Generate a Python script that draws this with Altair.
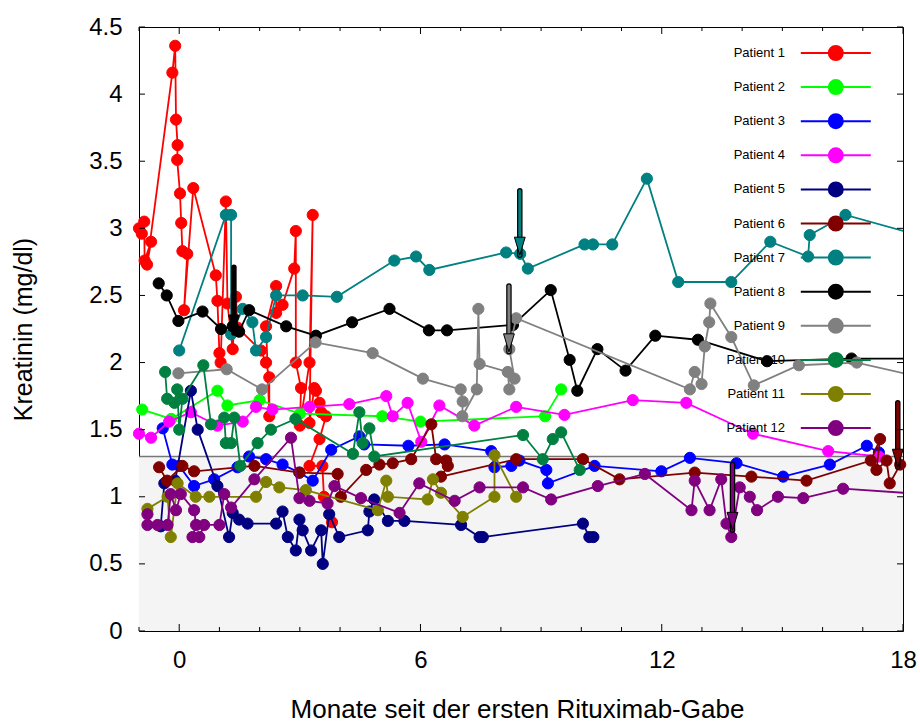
import altair as alt
import pandas as pd

FONT = "Liberation Sans"

patients = ["Patient 1", "Patient 2", "Patient 3", "Patient 4", "Patient 5", "Patient 6",
            "Patient 7", "Patient 8", "Patient 9", "Patient 10", "Patient 11", "Patient 12"]
colors = ["#ff0000", "#00ff00", "#0000ff", "#ff00ff", "#000080", "#800000",
          "#008080", "#000000", "#808080", "#008040", "#808000", "#800080"]

# months since first rituximab dose / creatinine (mg/dl), per patient, in measurement order
p1_month = [-1.0, -0.93, -0.87, -0.86, -0.7, -0.8, -0.17, -0.1, -0.08, -0.04, -0.05, 0.02, 0.05, 0.08, 0.2,
            0.12, 0.35, 0.91, 0.95, 1.0, 1.03, 1.16, 1.2, 1.33, 1.41, 1.45, 2.03, 2.16, 2.24, 2.24, 2.16, 2.41,
            2.41, 2.57, 2.86, 2.9, 2.9, 3.03, 3.0, 3.24, 3.32, 3.24, 3.36, 3.4, 3.49, 3.53, 3.65, 3.49, 3.24,
            3.56, 3.6, 3.8]
p1_creat = [3.00, 2.96, 3.05, 2.76, 2.90, 2.73, 4.16, 4.36, 3.81, 3.62, 3.51, 3.26, 3.04, 2.83, 2.81,
            2.39, 3.30, 2.65, 2.46, 2.07, 2.00, 3.20, 2.44, 2.10, 2.49, 2.26, 2.09, 2.00, 1.89, 1.60, 2.27, 2.57,
            2.37, 2.43, 2.70, 2.98, 2.00, 1.81, 1.53, 2.00, 3.10, 1.55, 1.81, 1.79, 1.70, 1.63, 1.60, 1.43, 1.23,
            1.23, 1.00, 0.81]

p2_month = [-0.92, -0.2, 0.95, 1.2, 2.0, 3.0, 5.05, 6.0, 9.1, 9.5]
p2_creat = [1.65, 1.58, 1.79, 1.68, 1.72, 1.62, 1.60, 1.56, 1.60, 1.80]

p3_month = [-0.41, -0.17, 0.0, 0.37, 0.87, 1.45, 1.74, 2.16, 2.57, 2.99, 3.32, 3.78, 4.48, 4.6, 5.7, 6.6,
            7.76, 7.84, 8.26, 8.46, 9.13, 9.17, 10.33, 11.99, 12.7, 13.86, 15.02, 16.18, 17.1, 17.4]
p3_creat = [1.51, 1.24, 1.23, 1.08, 1.13, 1.22, 1.30, 1.28, 1.24, 1.18, 1.12, 1.35, 1.45, 1.39, 1.38, 1.39,
            1.34, 1.22, 1.23, 1.27, 1.20, 1.10, 1.23, 1.19, 1.29, 1.25, 1.15, 1.24, 1.38, 1.33]

p4_month = [-1.0, -0.7, -0.25, 0.29, 0.95, 1.58, 1.91, 2.32, 3.24, 4.23, 5.15, 5.31, 5.68, 6.02, 6.47,
            7.34, 8.38, 9.58, 11.28, 12.61, 14.27, 16.14, 17.4]
p4_creat = [1.47, 1.44, 1.56, 1.63, 1.53, 1.56, 1.67, 1.65, 1.67, 1.69, 1.75, 1.60, 1.70, 1.41, 1.68,
            1.53, 1.67, 1.61, 1.72, 1.70, 1.47, 1.34, 1.30]

p5_month = [-0.46, -0.37, -0.1, 0.29, 0.46, 0.95, 1.24, 1.33, 1.49, 1.7, 2.41, 2.57, 2.7, 2.9, 2.99, 3.07,
            3.28, 3.53, 3.57, 3.73, 3.98, 4.69, 4.73, 4.85, 5.19, 5.6, 7.01, 7.47, 7.55, 10.04, 10.2, 10.3]
p5_creat = [0.78, 1.10, 1.12, 1.79, 1.50, 1.08, 0.70, 0.88, 0.83, 0.80, 0.80, 0.89, 0.70, 0.60, 0.83, 0.75,
            0.60, 0.75, 0.50, 0.87, 0.70, 0.75, 0.89, 0.98, 0.82, 0.82, 0.79, 0.70, 0.70, 0.80, 0.70, 0.70]

p6_month = [-0.5, -0.3, 0.08, 0.37, 1.87, 2.99, 3.94, 4.02, 4.65, 4.98, 5.31, 5.77, 6.27, 6.39, 6.64, 6.68,
            6.51, 8.38, 10.04, 10.95, 12.82, 14.23, 15.6, 17.2, 17.43, 17.34, 17.59, 17.67, 17.93]
p6_creat = [1.22, 1.12, 1.23, 1.19, 1.23, 1.18, 1.17, 1.00, 1.20, 1.24, 1.25, 1.28, 1.54, 1.28, 1.27, 1.23,
            1.15, 1.28, 1.28, 1.13, 1.18, 1.15, 1.12, 1.27, 1.43, 1.20, 1.27, 1.10, 1.24]

p7_month = [0.0, 1.16, 1.29, 1.29, 1.58, 1.82, 1.91, 2.16, 2.41, 3.07, 3.92, 5.35, 5.89, 6.22, 8.13, 8.48,
            8.67, 10.08, 10.29, 10.77, 11.63, 12.41, 13.73, 14.7, 15.64, 15.68, 16.57, 18.5]
p7_creat = [2.09, 3.10, 3.10, 2.21, 2.40, 2.30, 2.09, 2.19, 2.50, 2.50, 2.49, 2.76, 2.79, 2.69, 2.82, 2.81,
            2.70, 2.88, 2.88, 2.88, 3.37, 2.60, 2.60, 2.90, 2.79, 2.95, 3.10, 2.94]

p8_month = [-0.51, -0.31, -0.02, 0.58, 1.04, 1.33, 1.49, 1.74, 2.66, 3.4, 4.3, 5.23, 6.21, 6.66, 8.3, 9.24,
            9.71, 9.9, 10.4, 11.1, 11.84, 12.9, 14.62, 16.72, 18.5]
p8_creat = [2.59, 2.50, 2.31, 2.38, 2.25, 2.27, 2.23, 2.39, 2.27, 2.20, 2.30, 2.40, 2.24, 2.24, 2.28, 2.54,
            2.02, 1.79, 2.10, 1.94, 2.20, 2.17, 2.01, 2.03, 2.03]

p9_month = [-0.02, 1.18, 2.06, 3.39, 4.81, 6.06, 7.0, 7.05, 7.04, 7.4, 7.44, 7.47, 8.17, 8.21, 8.34, 8.21,
            8.38, 12.7, 12.82, 12.99, 13.07, 13.18, 13.21, 13.73, 14.29, 15.41, 16.85, 18.6]
p9_creat = [1.92, 1.95, 1.80, 2.15, 2.07, 1.88, 1.80, 1.71, 1.60, 1.80, 2.40, 1.99, 1.93, 1.80, 1.88, 2.10,
            2.33, 1.80, 1.93, 1.84, 2.12, 2.30, 2.44, 2.19, 1.83, 1.98, 2.00, 1.88]

p10_month = [-0.35, -0.3, -0.12, -0.05, 0.0, 0.08, 0.6, 0.79, 1.12, 1.16, 1.29, 1.37, 1.52, 1.95, 2.28,
             2.89, 4.32, 4.48, 4.56, 4.73, 4.85, 8.55, 9.04, 9.29, 9.5, 9.96]
p10_creat = [1.93, 1.73, 1.70, 1.80, 1.50, 1.73, 1.98, 1.54, 1.59, 1.40, 1.40, 1.59, 1.23, 1.40, 1.50,
             1.58, 1.32, 1.63, 1.40, 1.51, 1.30, 1.46, 1.28, 1.43, 1.48, 1.20]

p11_month = [-0.79, -0.29, -0.21, -0.04, 0.41, 0.75, 1.91, 2.16, 2.49, 3.15, 4.94, 5.15, 5.19, 6.18, 6.31,
             6.51, 7.05, 7.84, 7.84, 8.38]
p11_creat = [0.91, 1.00, 0.70, 1.10, 1.00, 1.00, 1.00, 1.11, 1.07, 1.05, 0.90, 1.12, 1.00, 0.98, 1.13,
             1.03, 0.85, 1.00, 1.31, 1.00]

p12_month = [-0.79, -0.79, -0.54, -0.29, -0.21, -0.08, 0.04, 0.37, 0.42, 0.33, 0.5, 0.62, 1.0, 1.12, 1.29,
             1.87, 2.78, 2.99, 3.24, 3.69, 3.86, 4.52, 5.48, 5.97, 6.85, 7.47, 8.55, 9.25, 10.41, 11.58,
             12.74, 12.82, 13.19, 13.48, 13.61, 13.73, 13.94, 14.19, 14.37, 14.89, 15.52, 16.51, 18.5]
p12_creat = [0.87, 0.79, 0.79, 0.79, 1.02, 0.90, 1.02, 0.90, 0.79, 0.70, 0.70, 0.79, 0.79, 1.02, 0.92,
             1.13, 1.44, 0.99, 0.97, 0.95, 1.08, 0.99, 0.88, 1.10, 0.97, 1.07, 1.07, 0.98, 1.08, 1.17,
             0.90, 1.12, 0.90, 1.13, 0.80, 0.70, 1.07, 1.00, 0.90, 1.00, 0.99, 1.06, 1.02]

# arrows (annotations): patient, month, start value, end value
arrow_patient = ["Patient 8", "Patient 9", "Patient 7", "Patient 12", "Patient 6"]
arrow_month = [1.36, 8.2, 8.47, 13.76, 17.87]
arrow_from = [2.71, 2.57, 3.28, 1.24, 1.70]
arrow_to = [2.22, 2.08, 2.80, 0.75, 1.22]

normal_limit = 1.3
x_range = [-1, 18]
y_range = [0, 4.5]
x_label_values = [0, 6, 12, 18]
x_tick_values = list(range(-1, 19))
y_tick_values = [0, 0.5, 1, 1.5, 2, 2.5, 3, 3.5, 4, 4.5]

series = [(p1_month, p1_creat), (p2_month, p2_creat), (p3_month, p3_creat), (p4_month, p4_creat),
          (p5_month, p5_creat), (p6_month, p6_creat), (p7_month, p7_creat), (p8_month, p8_creat),
          (p9_month, p9_creat), (p10_month, p10_creat), (p11_month, p11_creat), (p12_month, p12_creat)]

rows = []
for name, (xs, ys) in zip(patients, series):
    for i, (m, c) in enumerate(zip(xs, ys)):
        rows.append({"patient": name, "month": m, "creat": c, "seq": i})
df = pd.DataFrame(rows)

x_scale = alt.Scale(domain=x_range, nice=False, zero=False)
y_scale = alt.Scale(domain=y_range, nice=False, zero=False)

x_axis = alt.Axis(values=x_label_values, ticks=False, domain=False, grid=False,
                  labelFontSize=24, labelPadding=17, labelFlush=False, labelOverlap=False,
                  title="Monate seit der ersten Rituximab-Gabe", titleFontSize=26,
                  titleFontWeight="normal", titleX=378, titleY=78, titleBaseline="middle",
                  titleAlign="center")
y_axis = alt.Axis(values=y_tick_values, format="~g", ticks=False, domain=False, grid=False,
                  labelFontSize=24, labelPadding=17, labelFlush=False, labelOverlap=False,
                  title="Kreatinin (mg/dl)", titleFontSize=25, titleFontWeight="normal",
                  titleAngle=270, titleX=-116, titleY=302, titleBaseline="middle",
                  titleAlign="center")


def X(field):
    return alt.X(field, type="quantitative", scale=x_scale, axis=x_axis)


def Y(field):
    return alt.Y(field, type="quantitative", scale=y_scale, axis=y_axis)


color_scale = alt.Scale(domain=patients, range=colors)
stroke_scale = alt.Scale(domain=patients, range=colors)
# legend sample: line with a dot, drawn to the right of the (right-aligned) label
legend_symbol = "M3.4,0H13.4M9.4,0A1,1,0,1,1,7.4,0A1,1,0,1,1,9.4,0Z"
legend = alt.Legend(title=None, orient="none", legendX=630, legendY=18, padding=0,
                    symbolType=legend_symbol,
                    symbolSize=196, symbolStrokeWidth=2, symbolOpacity=1,
                    labelFont=FONT, labelFontSize=13, labelColor="black",
                    labelAlign="right", labelOffset=0, rowPadding=10.1)

band = pd.DataFrame({"m0": [x_range[0]], "m1": [x_range[1]], "c0": [0], "c1": [normal_limit]})

layers = [
    alt.Chart(band).mark_rect(color="#f4f4f4").encode(x=X("m0"), x2="m1", y=Y("c0"), y2="c1"),
    alt.Chart(band).mark_rule(color="#777777", strokeWidth=1.6).encode(x=X("m0"), x2="m1", y=Y("c1")),
]

for name, col in zip(patients, colors):
    layers.append(
        alt.Chart(df).transform_filter(alt.datum.patient == name)
        .mark_line(color=col, strokeWidth=1.8, clip=True)
        .encode(x=X("month"), y=Y("creat"), order="seq:Q")
    )
    layers.append(
        alt.Chart(df).transform_filter((alt.datum.patient == name) & (alt.datum.month <= 18))
        .mark_point(filled=True, size=125, opacity=1, strokeWidth=1)
        .encode(x=X("month"), y=Y("creat"),
                color=alt.Color("patient:N", scale=color_scale, legend=legend),
                stroke=alt.Stroke("patient:N", scale=stroke_scale, legend=legend))
    )

head_shape = "M-0.6,-1L0.6,-1L0,1Z"
for p, m, a, b in zip(arrow_patient, arrow_month, arrow_from, arrow_to):
    col = colors[patients.index(p)]
    adf = pd.DataFrame({"m": [m], "a": [a], "b": [b]})
    layers.append(alt.Chart(adf).mark_rule(color="black", strokeWidth=5.5, strokeCap="round")
                  .encode(x=X("m"), y=Y("a"), y2="b"))
    layers.append(alt.Chart(adf).mark_rule(color=col, strokeWidth=3, strokeCap="round")
                  .encode(x=X("m"), y=Y("a"), y2="b"))
    layers.append(alt.Chart(adf).mark_point(shape=head_shape, filled=True, fill=col, stroke="black",
                                            strokeWidth=1, size=324, opacity=1, yOffset=-9)
                  .encode(x=X("m"), y=Y("b")))

# inward ticks on all four sides
xt_major = pd.DataFrame({"t": [v for v in x_tick_values if v in x_label_values]})
xt_minor = pd.DataFrame({"t": [v for v in x_tick_values if v not in x_label_values]})
yt = pd.DataFrame({"t": y_tick_values})
for tdf, ln in ((xt_major, 7), (xt_minor, 4)):
    layers.append(alt.Chart(tdf).mark_rule(color="black", strokeWidth=1, y2Offset=-ln)
                  .encode(x=X("t"), y=alt.YDatum(y_range[0], scale=y_scale, axis=y_axis),
                          y2=alt.Y2Datum(y_range[0])))
    layers.append(alt.Chart(tdf).mark_rule(color="black", strokeWidth=1, y2Offset=ln)
                  .encode(x=X("t"), y=alt.YDatum(y_range[1], scale=y_scale, axis=y_axis),
                          y2=alt.Y2Datum(y_range[1])))
layers.append(alt.Chart(yt).mark_rule(color="black", strokeWidth=1, x2Offset=6)
              .encode(y=Y("t"), x=alt.XDatum(x_range[0], scale=x_scale, axis=x_axis),
                      x2=alt.X2Datum(x_range[0])))
layers.append(alt.Chart(yt).mark_rule(color="black", strokeWidth=1, x2Offset=-6)
              .encode(y=Y("t"), x=alt.XDatum(x_range[1], scale=x_scale, axis=x_axis),
                      x2=alt.X2Datum(x_range[1])))

chart = alt.layer(*layers).properties(
    width=764, height=604,
    padding={"left": 139, "top": 27, "right": 17, "bottom": 94},
    autosize=alt.AutoSizeParams(type="none"),
    background="white",
).configure_axis(
    labelFont=FONT, titleFont=FONT, labelColor="black", titleColor="black"
).configure_view(
    stroke="black", strokeWidth=1
)

chart.save("out.html", embed_options={"renderer": "svg", "actions": False})
